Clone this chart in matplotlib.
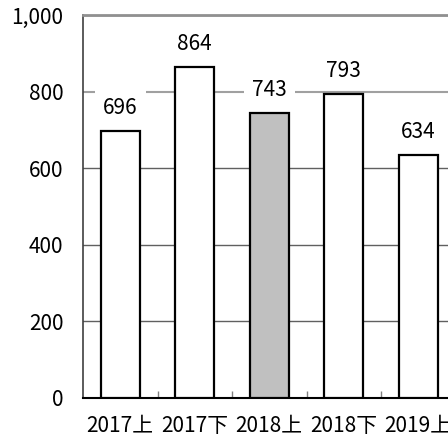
import numpy as np
import matplotlib.pyplot as plt

plt.rcParams['font.family'] = ['Noto Sans CJK JP', 'DejaVu Sans']

# データ
categories = ['2017上', '2017下', '2018上', '2018下', '2019上']
values = [696, 864, 743, 793, 634]
bar_colors = ['white', 'white', '#c0c0c0', 'white', 'white']
yticks = [0, 200, 400, 600, 800, 1000]
ytick_labels = ['0', '200', '400', '600', '800', '1,000']

fig = plt.figure(figsize=(4.48, 4.37), dpi=100)
# 右端は画像の外まではみ出している
ax = fig.add_axes([83 / 448, 39 / 437, 372.5 / 448, 383 / 437])

x = np.arange(len(categories))
bars = ax.bar(x, values, width=0.52, color=bar_colors,
              edgecolor='black', linewidth=1.6, zorder=3)

# 棒の上に数値
for xi, v in zip(x, values):
    ax.annotate(str(v), (xi, v), xytext=(0, 9), textcoords='offset points',
                ha='center', va='bottom', fontsize=15, zorder=4,
                bbox=dict(boxstyle='square,pad=0.4', fc='white', ec='none'))

ax.set_xlim(-0.5, len(categories) - 0.5)
ax.set_ylim(0, 1000)
ax.set_yticks(yticks)
ax.set_yticklabels(ytick_labels, fontsize=15)
ax.set_xticks(x)
ax.set_xticklabels(categories, fontsize=15)
ax.tick_params(axis='y', length=0, pad=14)
ax.tick_params(axis='x', length=0, pad=12)
ax.set_xticks(x[:-1] + 0.5, minor=True)
ax.tick_params(axis='x', which='minor', direction='in', length=5,
               color='#808080', width=1)

ax.yaxis.grid(True, color='#606060', linewidth=1, zorder=0)
ax.set_axisbelow(True)
# 800の線は少し薄い
for t, gl in zip(yticks, ax.get_ygridlines()):
    if t == 800:
        gl.set_color('#a0a0a0')
        gl.set_linewidth(1.5)

ax.spines['right'].set_visible(False)
ax.spines['top'].set_color('#909090')
ax.spines['top'].set_linewidth(2)
ax.spines['left'].set_color('#404040')
ax.spines['left'].set_linewidth(1.2)
ax.spines['bottom'].set_color('black')
ax.spines['bottom'].set_linewidth(1.5)

fig.savefig('out.png', dpi=100)
